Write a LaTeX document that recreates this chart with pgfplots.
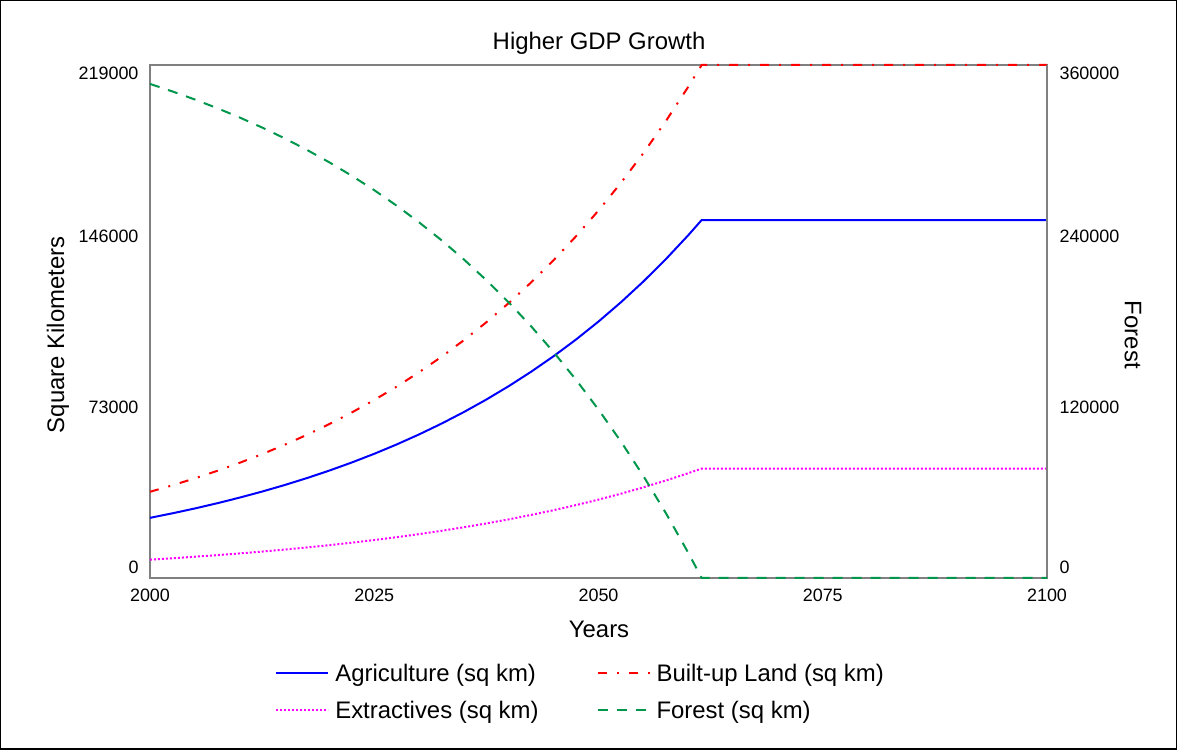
\documentclass[border=0pt]{standalone}
\usepackage{pgfplots}
\pgfplotsset{compat=1.18}
\usepackage{fontspec}
\setmainfont{Liberation Sans}

\definecolor{agri}{RGB}{0,0,255}
\definecolor{built}{RGB}{255,0,0}
\definecolor{extr}{RGB}{255,0,255}
\definecolor{forestc}{RGB}{0,150,75}
\definecolor{axisgray}{RGB}{128,128,128}

\tikzset{
  agristyle/.style={agri, line width=2bp},
  builtstyle/.style={built, line width=2bp, dash pattern=on 9bp off 10bp on 2bp off 10bp},
  extrstyle/.style={extr, line width=2bp, dash pattern=on 2bp off 2bp},
  foreststyle/.style={forestc, line width=2bp, dash pattern=on 10bp off 9bp},
}

\newcommand\bigfont{\fontsize{24}{28}\selectfont}

\pgfplotsset{
  common/.style={
    at={(150bp,172bp)}, anchor=south west,
    scale only axis, width=897bp, height=513bp,
    xmin=2000, xmax=2100,
    scaled ticks=false,
    axis line style={draw=axisgray, line width=2bp},
    major tick length=0pt, tick style={draw=none},
    tick label style={font=\fontsize{18}{21}\selectfont},
    clip=false,
  },
}

\begin{document}
\begin{tikzpicture}[x=1bp,y=1bp]
\draw[line width=1.5bp] (0.75,0.75) rectangle (1176.25,749.25);

\begin{axis}[
  common,
  ymin=0, ymax=219000,
  xtick={2000,2025,2050,2075,2100},
  xticklabels={2000,2025,2050,2075,2100},
  xticklabel style={yshift=-7.5bp},
  ytick={0,73000,146000,219000},
  yticklabels={{\smash{\raisebox{4.5bp}{0}}},73000,146000,{\smash{\raisebox{-15bp}{219000}}}},
  yticklabel style={xshift=-8bp},
  title={Higher GDP Growth},
  every axis title/.style={at={(axis description cs:0.5006,1.0429)}, anchor=center, font=\bigfont},
  xlabel={Years},
  every axis x label/.style={at={(axis description cs:0.5006,-0.101)}, anchor=center, font=\bigfont},
  ylabel={Square Kilometers},
  every axis y label/.style={at={(axis description cs:-0.1026,0.474)}, anchor=center, rotate=90, font=\bigfont},
  legend columns=2,
  legend cell align=left,
  legend image code/.code={\draw[#1] (0bp,0bp) -- (52bp,0bp); \path (56bp,0bp);},
  legend style={draw=none, fill=none, at={(0.48,-0.222)}, anchor=center,
    font=\bigfont, row sep=14bp,
    /tikz/every even column/.append style={column sep=56bp}},
]
\addplot[agristyle] coordinates {
(2000,25680) (2002.5,27611) (2005,29686) (2007.5,31919) (2010,34319) (2012.5,36900)
(2015,39673) (2017.5,42658) (2020,45864) (2022.5,49314) (2025,53021) (2027.5,57009)
(2030,61296) (2032.5,65905) (2035,70861) (2037.5,76189) (2040,81917) (2042.5,88077)
(2045,94700) (2047.5,101821) (2050,109476) (2052.5,117709) (2055,126561) (2057.5,136078)
(2060,146307) (2061.5,152811) (2100,152811)};
\addlegendentry{Agriculture (sq km)}
\addplot[builtstyle] coordinates {
(2000,36800) (2002.5,39567) (2005,42541) (2007.5,45741) (2010,49180) (2012.5,52879)
(2015,56852) (2017.5,61130) (2020,65725) (2022.5,70669) (2025,75981) (2027.5,81695)
(2030,87838) (2032.5,94443) (2035,101546) (2037.5,109180) (2040,117388) (2042.5,126216)
(2045,135707) (2047.5,145911) (2050,156882) (2052.5,168679) (2055,181365) (2057.5,195000)
(2060,209661) (2061.5,219000) (2100,219000)};
\addlegendentry{Built-up Land (sq km)}
\addplot[extrstyle] coordinates {
(2000,7850) (2002.5,8440) (2005,9075) (2007.5,9757) (2010,10491) (2012.5,11280)
(2015,12127) (2017.5,13040) (2020,14020) (2022.5,15075) (2025,16208) (2027.5,17427)
(2030,18737) (2032.5,20146) (2035,21661) (2037.5,23290) (2040,25041) (2042.5,26924)
(2045,28948) (2047.5,31125) (2050,33465) (2052.5,35982) (2055,38688) (2057.5,41596)
(2060,44724) (2061.5,46712) (2100,46712)};
\addlegendentry{Extractives (sq km)}
\addlegendimage{foreststyle}
\addlegendentry{Forest (sq km)}
\end{axis}

\begin{axis}[
  common,
  ymin=0, ymax=360000,
  axis x line=none, axis y line*=right,
  ytick={0,120000,240000,360000},
  yticklabels={{\smash{\raisebox{4.5bp}{0}}},120000,240000,{\smash{\raisebox{-15bp}{360000}}}},
  yticklabel style={xshift=9bp},
  ylabel={Forest},
  every axis y label/.style={at={(axis description cs:1.0959,0.474)}, anchor=center, rotate=-90, font=\bigfont},
]
\addplot[foreststyle] coordinates {
(2000,346700) (2002.5,341434) (2005,335775) (2007.5,329684) (2010,323141) (2012.5,316103)
(2015,308540) (2017.5,300402) (2020,291655) (2022.5,282251) (2025,272137) (2027.5,261270)
(2030,249573) (2032.5,237007) (2035,223486) (2037.5,208954) (2040,193337) (2042.5,176536)
(2045,158475) (2047.5,139056) (2050,118179) (2052.5,95729) (2055,71586) (2057.5,45636)
(2060,17739) (2061.5,0) (2100,0)};
\end{axis}
\end{tikzpicture}
\end{document}
